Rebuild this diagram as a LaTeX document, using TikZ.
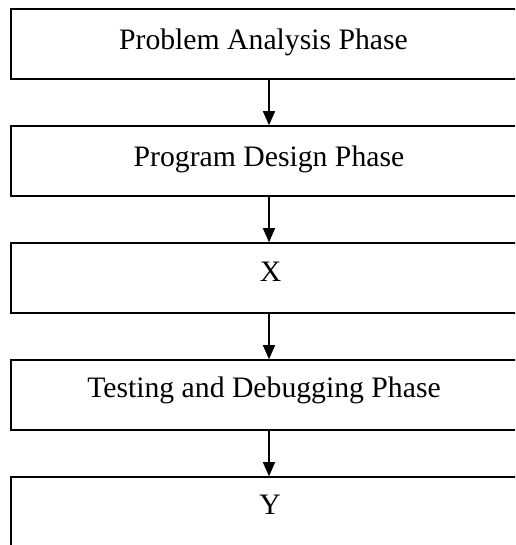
\documentclass[tikz,border=0pt]{standalone}
\usepackage{fontspec}
\setmainfont{Liberation Serif}
\usetikzlibrary{arrows.meta}
\begin{document}
\begin{tikzpicture}[x=1pt,y=1pt,
  phasebox/.style={draw=black,line width=1.5pt,rectangle,minimum width=516pt,minimum height=70pt,inner sep=0pt,fill=none},
  phasetext/.style={anchor=base,inner sep=0pt,font=\fontsize{29.7}{36}\selectfont},
  flowarrow/.style={draw=black,line width=1.3pt,-{Triangle[width=12pt,length=14pt]}}]
\useasboundingbox (0,0) rectangle (515,545);
\clip (0,0) rectangle (515,545);
\node[phasebox] (b1) at (269,501) {};
\node[phasebox] (b2) at (269,384) {};
\node[phasebox] (b3) at (269,267) {};
\node[phasebox] (b4) at (269,150) {};
\node[phasebox] (b5) at (269,33) {};
\node[phasetext] (t1) at (263.5,495) {Problem Analysis Phase};
\node[phasetext] (t2) at (269,378) {Program Design Phase};
\node[phasetext] (t3) at (270.5,263) {X};
\node[phasetext] (t4) at (264,147) {Testing and Debugging Phase};
\node[phasetext] (t5) at (270,30) {Y};
\draw[flowarrow] (b1.south) -- (b2.north);
\draw[flowarrow] (b2.south) -- (b3.north);
\draw[flowarrow] (b3.south) -- (b4.north);
\draw[flowarrow] (b4.south) -- (b5.north);
\end{tikzpicture}
\end{document}
